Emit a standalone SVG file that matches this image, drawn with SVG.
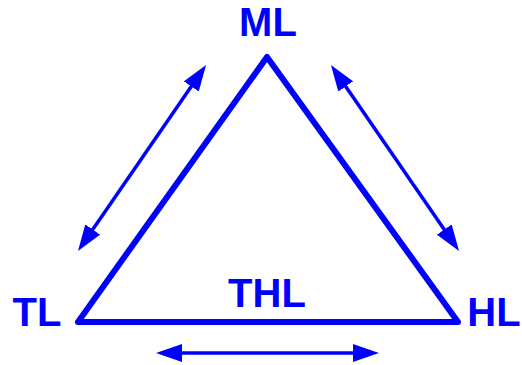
<svg xmlns="http://www.w3.org/2000/svg" width="522" height="365" viewBox="0 0 522 365">
<style>
.lbl{font-family:"Liberation Sans",Arial,sans-serif;font-weight:bold;font-size:40px;fill:#0000FF;text-anchor:middle}
.arr{stroke:#0000FF;stroke-width:3.5;fill:none;marker-start:url(#head);marker-end:url(#head)}
</style>
<defs>
<marker id="head" viewBox="0 0 26 18" refX="6" refY="9" markerWidth="26" markerHeight="18" markerUnits="userSpaceOnUse" orient="auto-start-reverse">
<path d="M0,0 L26,9 L0,18 z" fill="#0000FF"/>
</marker>
</defs>
<g id="triangle">
<polygon points="267,57 78,322 458,322" fill="none" stroke="#0000FF" stroke-width="6" stroke-linejoin="round"/>
</g>
<g id="ML"><text class="lbl" x="268" y="36">ML</text></g>
<g id="TL"><text class="lbl" x="37" y="326">TL</text></g>
<g id="HL"><text class="lbl" x="494" y="326">HL</text></g>
<g id="THL"><text class="lbl" x="267" y="307">THL</text></g>
<g id="connectors">
<line class="arr" x1="194.7" y1="81.5" x2="89.3" y2="234.5"/>
<line class="arr" x1="342.3" y1="81.5" x2="447.7" y2="234.5"/>
<line class="arr" x1="176" y1="353" x2="359" y2="353"/>
</g>
</svg>
